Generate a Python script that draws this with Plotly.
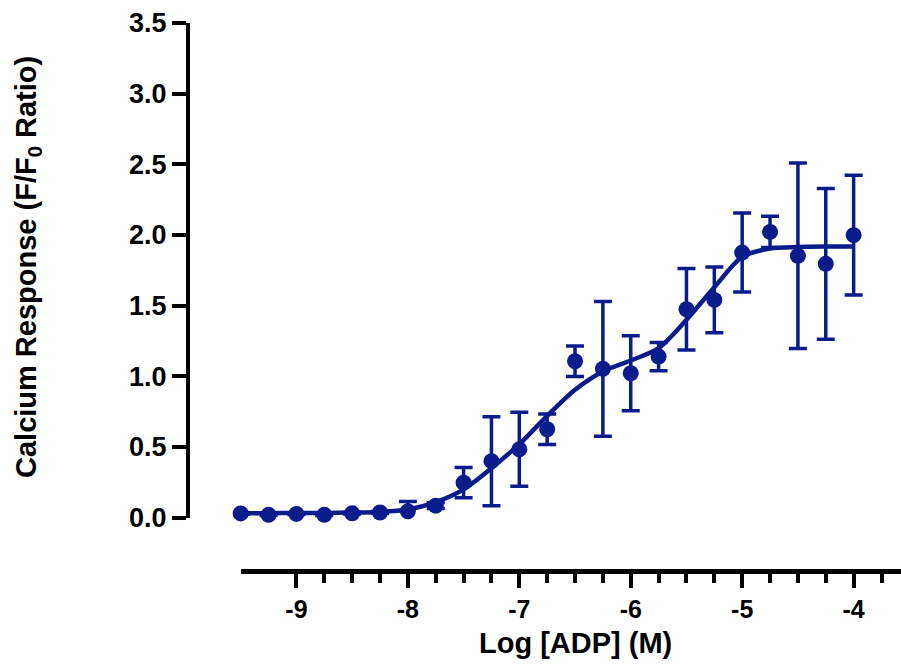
import plotly.graph_objects as go

# Data
log_adp = [-9.5, -9.25, -9.0, -8.75, -8.5, -8.25, -8.0, -7.75, -7.5, -7.25, -7.0, -6.75,
           -6.5, -6.25, -6.0, -5.75, -5.5, -5.25, -5.0, -4.75, -4.5, -4.25, -4.0]
response = [0.030, 0.020, 0.027, 0.020, 0.031, 0.037, 0.045, 0.085, 0.248, 0.400, 0.484, 0.626,
            1.107, 1.053, 1.022, 1.140, 1.475, 1.541, 1.876, 2.022, 1.853, 1.796, 1.999]
sem = [0.005, 0.005, 0.005, 0.005, 0.005, 0.006, 0.070, 0.020, 0.107, 0.315, 0.262, 0.108,
       0.108, 0.476, 0.266, 0.100, 0.288, 0.232, 0.280, 0.110, 0.656, 0.533, 0.423]

fit_x = [-9.5, -9.25, -9.0, -8.75, -8.5, -8.25, -8.0, -7.75, -7.5, -7.25, -7.0, -6.75,
         -6.5, -6.25, -6.0, -5.75, -5.5, -5.25, -5.0, -4.75, -4.5, -4.25, -4.0]
fit_y = [0.031, 0.032, 0.033, 0.034, 0.036, 0.041, 0.058, 0.110, 0.200, 0.350, 0.520, 0.720,
         0.905, 1.035, 1.112, 1.200, 1.400, 1.630, 1.845, 1.905, 1.915, 1.918, 1.918]

x_ticks = [-9, -8, -7, -6, -5, -4]
x_minor = [-8.75, -8.5, -8.25, -7.75, -7.5, -7.25, -6.75, -6.5, -6.25, -5.75, -5.5, -5.25,
           -4.75, -4.5, -4.25, -3.75]
y_ticks = [0.0, 0.5, 1.0, 1.5, 2.0, 2.5, 3.0, 3.5]

BLUE = "#0A1C8C"
FONT = "Liberation Sans, Arial, sans-serif"

fig = go.Figure()
fig.add_trace(go.Scatter(
    x=fit_x, y=fit_y, mode="lines",
    line=dict(color=BLUE, width=4.5, shape="spline", smoothing=0.8),
    hoverinfo="skip", showlegend=False, cliponaxis=False,
))
fig.add_trace(go.Scatter(
    x=log_adp, y=response, mode="markers",
    marker=dict(color=BLUE, size=16),
    error_y=dict(type="data", array=sem, visible=True, color=BLUE, thickness=3.5, width=9),
    showlegend=False, cliponaxis=False,
))

W, H = 901, 667
ml, mr, mt, mb = 188, 0, 23, 96
pw = W - ml - mr
ph = H - mt - mb

fig.update_layout(
    width=W, height=H,
    margin=dict(l=ml, r=mr, t=mt, b=mb),
    paper_bgcolor="white", plot_bgcolor="white",
    font=dict(family=FONT, color="black"),
    xaxis=dict(
        domain=[(240.7 - ml) / pw, 1], range=[-9.5, -3.575],
        anchor="free", position=0,
        showline=True, linecolor="black", linewidth=5,
        showgrid=False, zeroline=False,
        tickmode="array", tickvals=x_ticks, ticktext=[str(v) for v in x_ticks],
        ticks="outside", ticklen=14, tickwidth=4, tickcolor="black",
        tickfont=dict(size=25, family=FONT, weight="bold"),
        minor=dict(tickmode="array", tickvals=x_minor, ticks="outside",
                   ticklen=9, tickwidth=4, tickcolor="black", showgrid=False),
    ),
    yaxis=dict(
        domain=[(571 - 517.7) / ph, 1], range=[0, 3.5],
        anchor="free", position=0,
        showline=True, linecolor="black", linewidth=4,
        showgrid=False, zeroline=False,
        tickmode="array", tickvals=y_ticks, ticktext=[f"{v:.1f}" for v in y_ticks],
        ticks="outside", ticklen=14, tickwidth=4, tickcolor="black",
        tickfont=dict(size=27, family=FONT, weight="bold"),
    ),
    annotations=[
        dict(text="Log [ADP] (M)", xref="paper", yref="paper",
             x=(575 - ml) / pw, y=(571 - 643) / ph, xanchor="center", yanchor="middle",
             showarrow=False, font=dict(size=29, family=FONT, weight="bold", color="black")),
        dict(text="Calcium Response (F/F<sub>0</sub> Ratio)", xref="paper", yref="paper",
             x=(28 - ml) / pw, y=(571 - 267) / ph, xanchor="center", yanchor="middle",
             textangle=-90, showarrow=False,
             font=dict(size=29, family=FONT, weight="bold", color="black")),
    ],
)

fig.write_html("out.html")
